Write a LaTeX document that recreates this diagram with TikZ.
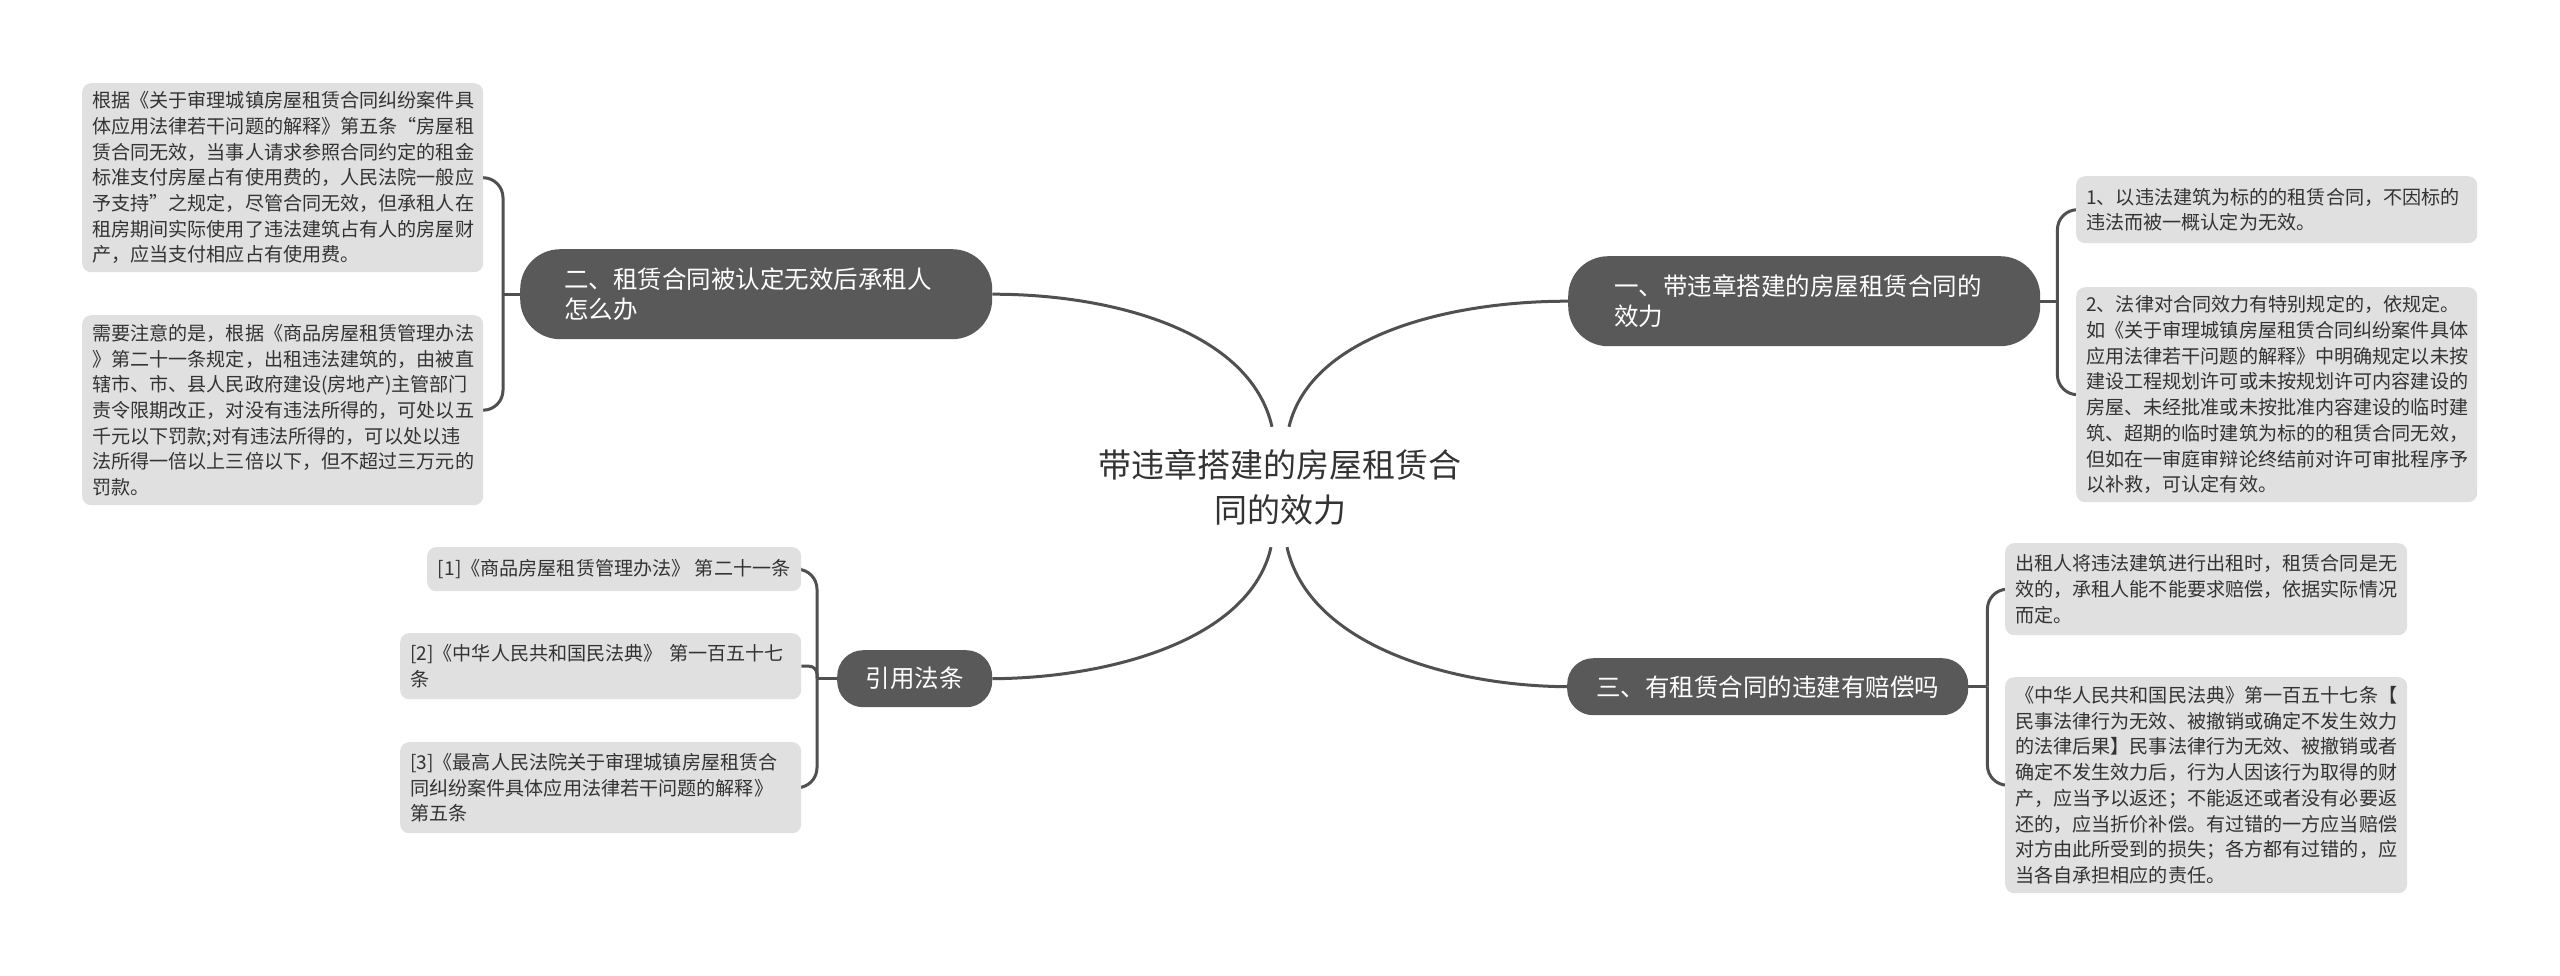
\documentclass[tikz,border=0pt]{standalone}
\usepackage{fontspec}
\newfontfamily\cjk{Noto Sans CJK SC}
\usetikzlibrary{backgrounds}
\definecolor{branchfill}{HTML}{595959}
\definecolor{leaffill}{HTML}{E0E0E0}
\definecolor{linecol}{HTML}{505050}
\definecolor{txt}{HTML}{333333}
\begin{document}
\begin{tikzpicture}[x=1pt,y=-1pt,
  conn/.style={draw=linecol, line width=3pt},
  leafbox/.style={anchor=north west, fill=leaffill, rounded corners=9pt, inner xsep=10pt, inner ysep=0pt, align=left, text=txt, font=\cjk\fontsize{19.1pt}{25.7pt}\selectfont},
  branchbox/.style={anchor=north west, fill=branchfill, text=white, inner ysep=0pt, font=\cjk\fontsize{24.5pt}{30pt}\selectfont},
]
\useasboundingbox (0,0) rectangle (2560,975);

% root
\node[font=\cjk\fontsize{33pt}{45pt}\selectfont, text=txt, align=center, minimum height=120pt, inner sep=0pt] (root) at (1280,487) {带违章搭建的房屋租赁合\\同的效力};

% branches
\node[branchbox, minimum width=472pt, minimum height=90pt, text width=384pt, inner xsep=44pt, align=left, rounded corners=40pt] (n2) at (520,249) {二、租赁合同被认定无效后承租人\\怎么办};
\node[branchbox, minimum width=472pt, minimum height=90pt, text width=380pt, inner xsep=46pt, align=left, rounded corners=40pt] (n1) at (1568,256) {一、带违章搭建的房屋租赁合同的\\效力};
\node[branchbox, minimum width=155pt, minimum height=57pt, inner xsep=0pt, rounded corners=26pt] (n4) at (837,650) {引用法条};
\node[branchbox, minimum width=401pt, minimum height=57pt, inner xsep=0pt, rounded corners=26pt] (n3) at (1567,658) {三、有租赁合同的违建有赔偿吗};

% leaves left top
\node[leafbox, minimum width=401pt, minimum height=189pt, text width=381pt] (L1) at (82,83) {根据《关于审理城镇房屋租赁合同纠纷案件具\\体应用法律若干问题的解释》第五条“房屋租\\赁合同无效，当事人请求参照合同约定的租金\\标准支付房屋占有使用费的，人民法院一般应\\予支持”之规定，尽管合同无效，但承租人在\\租房期间实际使用了违法建筑占有人的房屋财\\产，应当支付相应占有使用费。};
\node[leafbox, minimum width=401pt, minimum height=190pt, text width=381pt] (L2) at (82,315) {需要注意的是，根据《商品房屋租赁管理办法\\》第二十一条规定，出租违法建筑的，由被直\\辖市、市、县人民政府建设(房地产)主管部门\\责令限期改正，对没有违法所得的，可处以五\\千元以下罚款;对有违法所得的，可以处以违\\法所得一倍以上三倍以下，但不超过三万元的\\罚款。};

% leaves right top
\node[leafbox, minimum width=401pt, minimum height=67pt, text width=381pt] (R1) at (2076,176) {1、以违法建筑为标的的租赁合同，不因标的\\违法而被一概认定为无效。};
\node[leafbox, minimum width=401pt, minimum height=215pt, text width=381pt] (R2) at (2076,287) {2、法律对合同效力有特别规定的，依规定。\\如《关于审理城镇房屋租赁合同纠纷案件具体\\应用法律若干问题的解释》中明确规定以未按\\建设工程规划许可或未按规划许可内容建设的\\房屋、未经批准或未按批准内容建设的临时建\\筑、超期的临时建筑为标的的租赁合同无效，\\但如在一审庭审辩论终结前对许可审批程序予\\以补救，可认定有效。};

% leaves right bottom
\node[leafbox, minimum width=402pt, minimum height=92pt, text width=382pt] (R3) at (2005,543) {出租人将违法建筑进行出租时，租赁合同是无\\效的，承租人能不能要求赔偿，依据实际情况\\而定。};
\node[leafbox, minimum width=402pt, minimum height=216pt, text width=382pt] (R4) at (2005,677) {《中华人民共和国民法典》第一百五十七条【\\民事法律行为无效、被撤销或确定不发生效力\\的法律后果】民事法律行为无效、被撤销或者\\确定不发生效力后，行为人因该行为取得的财\\产，应当予以返还；不能返还或者没有必要返\\还的，应当折价补偿。有过错的一方应当赔偿\\对方由此所受到的损失；各方都有过错的，应\\当各自承担相应的责任。};

% leaves left bottom
\node[leafbox, minimum width=374pt, minimum height=44pt, align=center] (B1) at (427,547) {[1]《商品房屋租赁管理办法》 第二十一条};
\node[leafbox, minimum width=401pt, minimum height=66pt, text width=381pt] (B2) at (400,633) {[2]《中华人民共和国民法典》 第一百五十七\\条};
\node[leafbox, minimum width=401pt, minimum height=91pt, text width=381pt] (B3) at (400,742) {[3]《最高人民法院关于审理城镇房屋租赁合\\同纠纷案件具体应用法律若干问题的解释》\\第五条};

% junctions
\coordinate (j2) at ([xshift=-17pt]n2.west);
\coordinate (j1) at ([xshift=17pt]n1.east);
\coordinate (j4) at ([xshift=-20pt]n4.west);
\coordinate (j3) at ([xshift=19pt]n3.east);

\begin{scope}[on background layer]
\fill[white] (0,0) rectangle (2560,975);
% main curves
\draw[conn] ([xshift=-8pt]root.north) .. controls (1250,330) and (1110,294) .. (n2.east);
\draw[conn] ([xshift=9pt]root.north) .. controls (1311,335) and (1450,301) .. (n1.west);
\draw[conn] ([xshift=-9pt]root.south) .. controls (1250,640) and (1110,678) .. (n4.east);
\draw[conn] ([xshift=7pt]root.south) .. controls (1309,645) and (1450,686) .. (n3.west);
% brackets
\draw[conn] (n2.west) -- (j2);
\draw[conn, rounded corners=20pt] (L1.east) -| (j2);
\draw[conn, rounded corners=20pt] (L2.east) -| (j2);
\draw[conn] (n1.east) -- (j1);
\draw[conn, rounded corners=20pt] (R1.west) -| (j1);
\draw[conn, rounded corners=20pt] (R2.west) -| (j1);
\draw[conn] (n4.west) -- (j4);
\draw[conn, rounded corners=20pt] (B1.east) -| (j4);
\draw[conn, rounded corners=8pt] (B2.east) -| (j4);
\draw[conn, rounded corners=20pt] (B3.east) -| (j4);
\draw[conn] (n3.east) -- (j3);
\draw[conn, rounded corners=20pt] (R3.west) -| (j3);
\draw[conn, rounded corners=20pt] (R4.west) -| (j3);
\end{scope}
\end{tikzpicture}
\end{document}
